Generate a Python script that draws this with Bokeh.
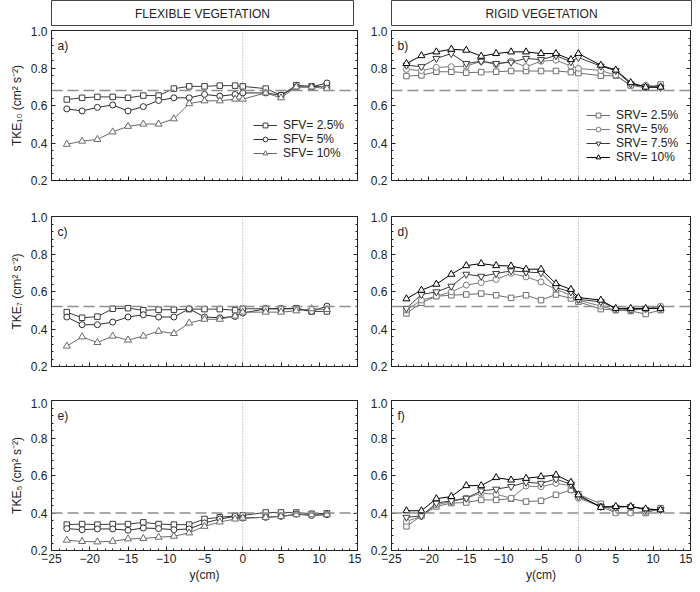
from bokeh.plotting import figure
from bokeh.layouts import gridplot
from bokeh.models import (Span, Label, Legend, LegendItem, LinearAxis, Range1d,
                          FixedTicker)
from bokeh.embed import file_html
from bokeh.resources import INLINE

FONT = "Liberation Sans"

# ---------------- data ----------------
y_cm = [-23, -21, -19, -17, -15, -13, -11, -9, -7, -5, -3, -1, 0, 3, 5, 7, 9, 11]

x_ticks = [-25, -20, -15, -10, -5, 0, 5, 10, 15]
y_ticks = [0.2, 0.4, 0.6, 0.8, 1.0]

headers = ["FLEXIBLE VEGETATION", "RIGID VEGETATION"]
panel_letters = [["a)", "b)"], ["c)", "d)"], ["e)", "f)"]]
y_labels = ["TKE\u2081\u2080 (cm\u00b2 s\u207b\u00b2)", "TKE\u2087 (cm\u00b2 s\u207b\u00b2)",
            "TKE\u2085 (cm\u00b2 s\u207b\u00b2)"]
ref_levels = [0.68, 0.52, 0.40]

flex_labels = ["SFV= 2.5%", "SFV= 5%", "SFV= 10%"]
rigid_labels = ["SRV= 2.5%", "SRV= 5%", "SRV= 7.5%", "SRV= 10%"]

# Flexible vegetation, TKE10
flex10_25 = [0.632, 0.641, 0.646, 0.646, 0.641, 0.653, 0.653, 0.690, 0.702, 0.702, 0.706, 0.706, 0.702, 0.690, 0.655, 0.708, 0.702, 0.699]
flex10_5 = [0.582, 0.571, 0.590, 0.603, 0.571, 0.594, 0.627, 0.641, 0.641, 0.659, 0.650, 0.659, 0.667, 0.667, 0.655, 0.699, 0.699, 0.720]
flex10_10 = [0.393, 0.410, 0.419, 0.459, 0.489, 0.501, 0.501, 0.529, 0.610, 0.625, 0.625, 0.634, 0.634, 0.667, 0.641, 0.699, 0.699, 0.690]
# Flexible vegetation, TKE7
flex7_25 = [0.490, 0.460, 0.466, 0.508, 0.511, 0.500, 0.503, 0.503, 0.506, 0.506, 0.506, 0.500, 0.508, 0.508, 0.508, 0.511, 0.494, 0.494]
flex7_5 = [0.464, 0.423, 0.423, 0.437, 0.464, 0.476, 0.464, 0.464, 0.508, 0.464, 0.460, 0.467, 0.485, 0.508, 0.508, 0.508, 0.494, 0.522]
flex7_10 = [0.309, 0.358, 0.328, 0.362, 0.341, 0.362, 0.388, 0.376, 0.432, 0.452, 0.452, 0.469, 0.490, 0.490, 0.490, 0.497, 0.508, 0.504]
# Flexible vegetation, TKE5
flex5_25 = [0.338, 0.341, 0.338, 0.341, 0.341, 0.350, 0.341, 0.338, 0.338, 0.368, 0.377, 0.385, 0.387, 0.403, 0.403, 0.403, 0.396, 0.398]
flex5_5 = [0.317, 0.311, 0.315, 0.315, 0.308, 0.320, 0.317, 0.311, 0.315, 0.347, 0.368, 0.382, 0.373, 0.377, 0.382, 0.394, 0.387, 0.391]
flex5_10 = [0.255, 0.248, 0.246, 0.249, 0.262, 0.264, 0.271, 0.276, 0.294, 0.329, 0.352, 0.368, 0.373, 0.377, 0.382, 0.391, 0.391, 0.391]

# Rigid vegetation, TKE10
rigid10_25 = [0.757, 0.761, 0.780, 0.780, 0.775, 0.778, 0.780, 0.784, 0.784, 0.784, 0.784, 0.778, 0.773, 0.759, 0.759, 0.708, 0.694, 0.712]
rigid10_5 = [0.793, 0.786, 0.803, 0.807, 0.810, 0.836, 0.819, 0.836, 0.807, 0.836, 0.842, 0.810, 0.798, 0.786, 0.763, 0.705, 0.708, 0.700]
rigid10_75 = [0.815, 0.807, 0.851, 0.877, 0.824, 0.836, 0.824, 0.831, 0.851, 0.845, 0.866, 0.833, 0.856, 0.810, 0.786, 0.715, 0.700, 0.696]
rigid10_10 = [0.824, 0.866, 0.886, 0.900, 0.895, 0.863, 0.877, 0.886, 0.886, 0.877, 0.877, 0.845, 0.877, 0.815, 0.789, 0.722, 0.698, 0.698]
# Rigid vegetation, TKE7
rigid7_25 = [0.483, 0.540, 0.575, 0.580, 0.584, 0.589, 0.580, 0.566, 0.580, 0.554, 0.584, 0.563, 0.545, 0.506, 0.501, 0.496, 0.480, 0.501]
rigid7_5 = [0.501, 0.554, 0.575, 0.598, 0.634, 0.648, 0.664, 0.697, 0.678, 0.651, 0.611, 0.580, 0.554, 0.522, 0.501, 0.501, 0.506, 0.522]
rigid7_75 = [0.510, 0.584, 0.598, 0.628, 0.692, 0.681, 0.696, 0.710, 0.704, 0.700, 0.621, 0.598, 0.558, 0.545, 0.510, 0.504, 0.510, 0.510]
rigid7_10 = [0.561, 0.607, 0.639, 0.692, 0.738, 0.749, 0.738, 0.736, 0.719, 0.719, 0.642, 0.611, 0.568, 0.554, 0.510, 0.510, 0.510, 0.510]
# Rigid vegetation, TKE5
rigid5_25 = [0.329, 0.385, 0.435, 0.453, 0.456, 0.470, 0.470, 0.476, 0.461, 0.465, 0.497, 0.523, 0.500, 0.449, 0.403, 0.403, 0.400, 0.426]
rigid5_5 = [0.355, 0.382, 0.444, 0.461, 0.479, 0.506, 0.500, 0.479, 0.544, 0.540, 0.558, 0.546, 0.479, 0.435, 0.400, 0.400, 0.408, 0.417]
rigid5_75 = [0.377, 0.385, 0.453, 0.465, 0.479, 0.518, 0.527, 0.541, 0.564, 0.558, 0.581, 0.553, 0.488, 0.435, 0.430, 0.435, 0.417, 0.417]
rigid5_10 = [0.412, 0.412, 0.476, 0.488, 0.546, 0.546, 0.589, 0.576, 0.585, 0.594, 0.603, 0.564, 0.497, 0.430, 0.435, 0.435, 0.422, 0.417]

flex_series = [[flex10_25, flex10_5, flex10_10],
               [flex7_25, flex7_5, flex7_10],
               [flex5_25, flex5_5, flex5_10]]
rigid_series = [[rigid10_25, rigid10_5, rigid10_75, rigid10_10],
                [rigid7_25, rigid7_5, rigid7_75, rigid7_10],
                [rigid5_25, rigid5_5, rigid5_75, rigid5_10]]

# ---------------- styles ----------------
flex_styles = [("square", "#3c3c3c", 5.5), ("circle", "#2e2e2e", 6), ("triangle", "#6a6a6a", 7)]
rigid_styles = [("square", "#6e6e6e", 5.5), ("circle", "#7a7a7a", 6),
                ("inverted_triangle", "#3a3a3a", 7), ("triangle", "#000000", 7)]

COL = [dict(min_border_left=49, frame_width=306, min_border_right=6),
       dict(min_border_left=29, frame_width=299, min_border_right=3)]
HEAD = [dict(min_border_left=51, frame_width=302, min_border_right=8),
        dict(min_border_left=30, frame_width=300, min_border_right=1)]
ROWS = [dict(top=4, bottom=32), dict(top=4, bottom=32), dict(top=2, bottom=34)]
FRAME_H = 150
x_minor = [v for v in range(-25, 16) if v % 5 != 0]
y_minor = [round(0.2 + 0.04 * i, 2) for i in range(21) if i % 5 != 0]


def style_axis(ax):
    ax.major_tick_in = 4
    ax.major_tick_out = 0
    ax.minor_tick_in = 2
    ax.minor_tick_out = 0
    ax.axis_line_color = "#222222"
    ax.major_tick_line_color = "#222222"
    ax.minor_tick_line_color = "#222222"
    ax.major_label_text_font = FONT
    ax.major_label_text_font_size = "12px"
    ax.major_label_text_color = "#222222"
    ax.major_label_standoff = 4
    ax.axis_label_text_font = FONT
    ax.axis_label_text_font_size = "12px"
    ax.axis_label_text_font_style = "normal"
    ax.axis_label_text_color = "#222222"
    ax.axis_label_standoff = 4


def make_header(col):
    c = HEAD[col]
    p = figure(frame_width=c["frame_width"], frame_height=26,
               min_border_left=c["min_border_left"], min_border_right=c["min_border_right"],
               min_border_top=0, min_border_bottom=0,
               x_range=Range1d(0, 1), y_range=Range1d(0, 1),
               output_backend="svg", toolbar_location=None)
    p.xaxis.visible = False
    p.yaxis.visible = False
    p.grid.visible = False
    p.outline_line_color = "#444444"
    p.outline_line_width = 1
    p.add_layout(Label(x=0.5, y=0.5, text=headers[col], text_align="center",
                       text_baseline="middle", text_font=FONT, text_font_size="12px",
                       text_color="#222222"))
    return p


def make_panel(row, col):
    c = COL[col]
    rr = ROWS[row]
    bottom = row == 2
    p = figure(frame_width=c["frame_width"], frame_height=FRAME_H,
               min_border_left=c["min_border_left"], min_border_right=c["min_border_right"],
               min_border_top=rr["top"], min_border_bottom=rr["bottom"],
               x_range=Range1d(-25, 15), y_range=Range1d(0.2, 1.0),
               output_backend="svg", toolbar_location=None)
    p.grid.visible = False
    p.outline_line_color = "#222222"
    p.background_fill_color = "white"
    p.border_fill_color = "white"

    p.xaxis.ticker = FixedTicker(ticks=x_ticks, minor_ticks=x_minor)
    p.yaxis.ticker = FixedTicker(ticks=y_ticks, minor_ticks=y_minor)
    style_axis(p.xaxis[0])
    style_axis(p.yaxis[0])
    p.xaxis.major_label_standoff = 3
    p.xaxis.axis_label_standoff = 2
    p.yaxis.major_label_overrides = {0.2: "0.2", 0.4: "0.4", 0.6: "0.6", 0.8: "0.8", 1.0: "1.0"}
    if bottom:
        p.xaxis.axis_label = "y(cm)"
    else:
        p.xaxis.major_label_overrides = {t: "" for t in x_ticks}
    if col == 0:
        p.yaxis.axis_label = y_labels[row]

    rax = LinearAxis(ticker=FixedTicker(ticks=y_ticks, minor_ticks=y_minor))
    style_axis(rax)
    rax.major_label_overrides = {t: "" for t in y_ticks}
    rax.major_label_standoff = 0
    p.add_layout(rax, "right")

    p.add_layout(Span(location=ref_levels[row], dimension="width", line_color="#8f8f8f",
                      line_dash="11 5", line_width=1.6))
    p.add_layout(Span(location=0, dimension="height", line_color="#9a9a9a",
                      line_dash="1 2", line_width=1))

    series = flex_series[row] if col == 0 else rigid_series[row]
    styles = flex_styles if col == 0 else rigid_styles
    labels = flex_labels if col == 0 else rigid_labels
    items = []
    for vals, (marker, color, size), lab in zip(series, styles, labels):
        ln = p.line(y_cm, vals, line_color=color, line_width=1)
        sc = p.scatter(y_cm, vals, marker=marker, size=size, line_color=color,
                       fill_color="white", line_width=1)
        items.append(LegendItem(label=lab, renderers=[ln, sc]))

    p.add_layout(Label(x=-24.2, y=0.915, text=panel_letters[row][col], text_align="left",
                       text_baseline="middle", text_font=FONT, text_font_size="12px",
                       text_color="#222222"))

    if row == 0:
        loc = (202, 20) if col == 0 else (195, 16)
        leg = Legend(items=items, location=loc, border_line_color=None,
                     background_fill_alpha=0, label_text_font=FONT,
                     label_text_font_size="12px", label_text_color="#222222",
                     glyph_width=24, glyph_height=12, label_height=12, spacing=0,
                     padding=2, margin=0, label_standoff=6)
        p.add_layout(leg)
    return p


grid = [[make_header(0), make_header(1)]]
for r in range(3):
    grid.append([make_panel(r, 0), make_panel(r, 1)])

layout = gridplot(grid, toolbar_location=None)

open("out.html", "w").write(file_html(layout, INLINE))
